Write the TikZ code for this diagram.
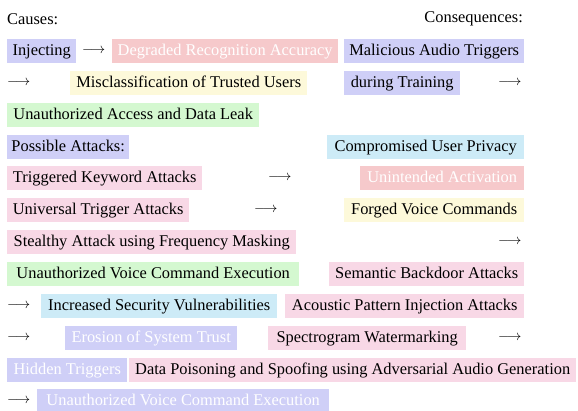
\documentclass[tikz,border=0pt]{standalone}
\usepackage{fontspec}
\setmainfont{Liberation Serif}
\usepackage{tikz}

\definecolor{cblue}{RGB}{207,207,247}
\definecolor{cred}{RGB}{246,201,203}
\definecolor{cyel}{RGB}{253,249,218}
\definecolor{cgreen}{RGB}{212,248,208}
\definecolor{ccyan}{RGB}{205,235,247}
\definecolor{cpink}{RGB}{248,216,230}

\tikzset{
  lbl/.style={inner sep=0pt, font=\fontsize{16.4}{19}\selectfont},
  tag/.style={lbl, anchor=west, minimum height=24pt, text height=11.5pt, text depth=3.5pt},
  arr/.style={inner sep=0pt, anchor=west, font=\fontsize{15.5}{18}\selectfont}
}

\begin{document}
\begin{tikzpicture}[x=1pt,y=-1pt]
		\useasboundingbox[fill=white] (0,0) rectangle (578,410);
		\node[lbl, anchor=west] (causes) at (7,19) {Causes:};
		\node[lbl, anchor=east] (conseq) at (523,19) {Consequences:};
		% row 1
		\node[tag, fill=cblue, minimum width=69pt] (inject) at (7,51) {Injecting};
		\node[arr] (a1) at (82,51) {$\longrightarrow$};
		\node[tag, fill=cred, text=white, minimum width=226pt] (degrade) at (112,51) {Degraded Recognition Accuracy};
		\node[tag, fill=cblue, minimum width=180pt] (malic) at (344,51) {Malicious Audio Triggers};
		% row 2
		\node[arr] (a2) at (7,83) {$\longrightarrow$};
		\node[tag, fill=cyel, minimum width=237pt] (miscl) at (70,83) {Misclassification of Trusted Users};
		\node[tag, fill=cblue, minimum width=116pt] (during) at (344,83) {during Training};
		\node[arr] (a3) at (498,83) {$\longrightarrow$};
		% row 3
		\node[tag, fill=cgreen, minimum width=252pt] (access) at (7,115) {Unauthorized Access and Data Leak};
		% row 4
		\node[tag, fill=cblue, minimum width=122pt] (possible) at (7,147) {Possible Attacks:};
		\node[tag, fill=ccyan, minimum width=197pt] (privacy) at (327,147) {Compromised User Privacy};
		% row 5
		\node[tag, fill=cpink, minimum width=195pt] (keyword) at (7,178) {Triggered Keyword Attacks};
		\node[arr] (a4) at (268,178) {$\longrightarrow$};
		\node[tag, fill=cred, text=white, minimum width=164pt] (unint) at (360,178) {Unintended Activation};
		% row 6
		\node[tag, fill=cpink, minimum width=182pt] (universal) at (7,210) {Universal Trigger Attacks};
		\node[arr] (a5) at (254,210) {$\longrightarrow$};
		\node[tag, fill=cyel, minimum width=180pt] (forged) at (344,210) {Forged Voice Commands};
		% row 7
		\node[tag, fill=cpink, minimum width=289pt] (stealth) at (7,242) {Stealthy Attack using Frequency Masking};
		\node[arr] (a6) at (498,242) {$\longrightarrow$};
		% row 8
		\node[tag, fill=cgreen, minimum width=292pt] (voiceA) at (7,274) {Unauthorized Voice Command Execution};
		\node[tag, fill=cpink, minimum width=195pt] (semantic) at (329,274) {Semantic Backdoor Attacks};
		% row 9
		\node[arr] (a7) at (7,306) {$\longrightarrow$};
		\node[tag, fill=ccyan, minimum width=236pt] (vuln) at (41,306) {Increased Security Vulnerabilities};
		\node[tag, fill=cpink, minimum width=239pt] (acoustic) at (285,306) {Acoustic Pattern Injection Attacks};
		% row 10
		\node[arr] (a8) at (7,338) {$\longrightarrow$};
		\node[tag, fill=cblue, text=white, minimum width=172pt] (erosion) at (65,338) {Erosion of System Trust};
		\node[tag, fill=cpink, minimum width=198pt] (spectro) at (268,338) {Spectrogram Watermarking};
		\node[arr] (a9) at (498,338) {$\longrightarrow$};
		% row 11
		\node[tag, fill=cblue, text=white, minimum width=120pt] (hidden) at (7,370) {Hidden Triggers};
		\node[tag, fill=cpink, minimum width=447pt] (poison) at (129,370) {Data Poisoning and Spoofing using Adversarial Audio Generation};
		% row 12
		\node[arr] (a10) at (7,401) {$\longrightarrow$};
		\node[tag, fill=cblue, text=white, minimum width=292pt] (voiceB) at (37,401) {Unauthorized Voice Command Execution};
\end{tikzpicture}
\end{document}
